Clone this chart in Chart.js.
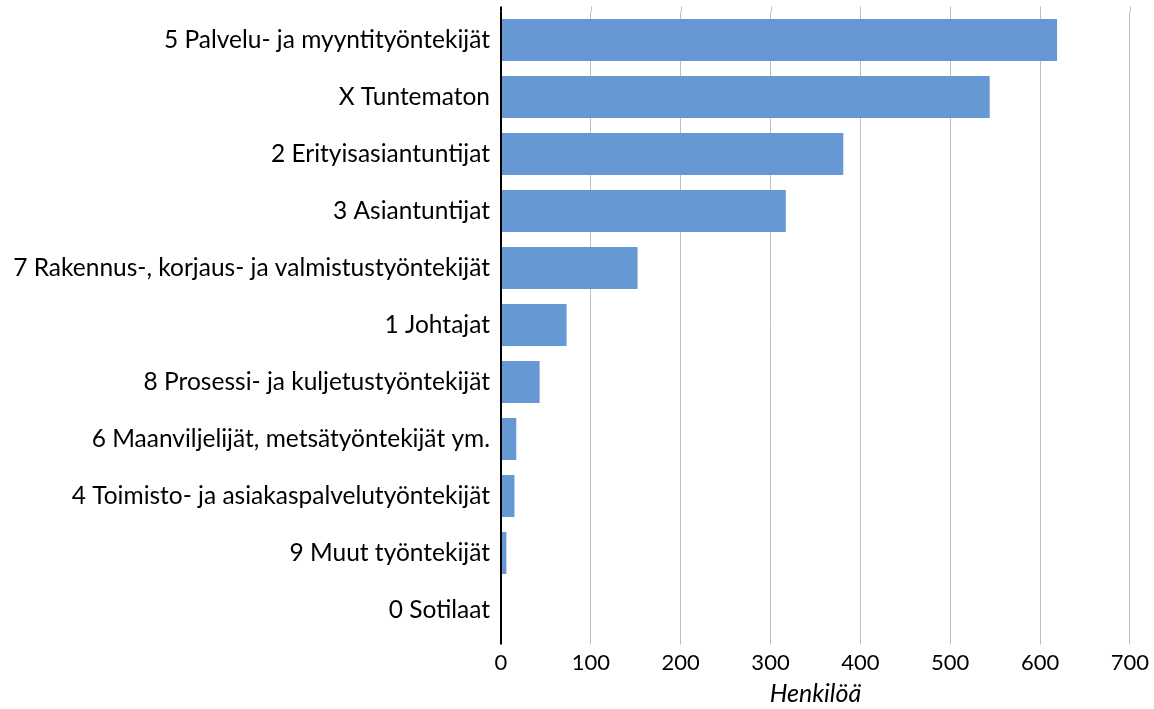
<!DOCTYPE html>
<html>
<head>
<meta charset="utf-8">
<script src="https://cdn.jsdelivr.net/npm/chart.js"></script>
<style>
  html, body { margin: 0; padding: 0; background: #ffffff; }
  #wrap { width: 1154px; height: 709px; }
</style>
</head>
<body>
<div id="wrap"><canvas id="c" width="1154" height="709"></canvas></div>
<script>
const categories = [
  "5 Palvelu- ja myyntityöntekijät",
  "X Tuntematon",
  "2 Erityisasiantuntijat",
  "3 Asiantuntijat",
  "7 Rakennus-, korjaus- ja valmistustyöntekijät",
  "1 Johtajat",
  "8 Prosessi- ja kuljetustyöntekijät",
  "6 Maanviljelijät, metsätyöntekijät ym.",
  "4 Toimisto- ja asiakaspalvelutyöntekijät",
  "9 Muut työntekijät",
  "0 Sotilaat"
];
const values = [619, 544, 381, 317, 152, 73, 43, 17, 15, 6, 0];
const xTicks = [0, 100, 200, 300, 400, 500, 600, 700];
const xTitle = "Henkilöä";

const FONT = "Lato, 'Open Sans', sans-serif";
const GRID = "#bfbfbf";

const gridTopExt = {
  id: 'gridTopExt',
  beforeDatasetsDraw(chart) {
    const xs = chart.scales.x;
    const top = chart.chartArea.top;
    const ctx = chart.ctx;
    ctx.save();
    xs.ticks.forEach(t => {
      const px = xs.getPixelForValue(t.value);
      const zero = t.value === 0;
      ctx.strokeStyle = zero ? '#000000' : GRID;
      ctx.lineWidth = zero ? 2 : 1;
      const x = zero ? px : Math.round(px) + 0.5;
      ctx.beginPath();
      ctx.moveTo(x, top - 5);
      ctx.lineTo(x, top);
      ctx.stroke();
    });
    ctx.restore();
  }
};

new Chart(document.getElementById('c'), {
  type: 'bar',
  data: {
    labels: categories,
    datasets: [{
      data: values,
      backgroundColor: '#6699d3',
      borderWidth: 0,
      barPercentage: 0.737,
      categoryPercentage: 1.0
    }]
  },
  options: {
    indexAxis: 'y',
    responsive: false,
    devicePixelRatio: 1,
    animation: false,
    layout: { padding: { top: 11.5, right: 22, bottom: 0, left: 0 } },
    plugins: {
      legend: { display: false },
      tooltip: { enabled: false }
    },
    scales: {
      x: {
        type: 'linear',
        min: 0,
        max: 700,
        afterBuildTicks(scale) { scale.ticks = xTicks.map(v => ({ value: v })); },
        afterFit(scale) { scale.height = 70.5; },
        border: { display: false },
        grid: {
          color: (c) => (c.tick && c.tick.value === 0) ? '#000000' : GRID,
          lineWidth: (c) => (c.tick && c.tick.value === 0) ? 2 : 1,
          tickLength: 6,
          drawTicks: true
        },
        ticks: {
          color: '#000000',
          font: { family: FONT, size: 22 },
          padding: 5,
          maxRotation: 0
        },
        title: {
          display: true,
          text: xTitle,
          color: '#000000',
          font: { family: FONT, size: 25, style: 'italic' },
          padding: { top: 0, bottom: 0 }
        }
      },
      y: {
        afterFit(scale) {
          scale.width = 501;
          scale.paddingTop = 0;
          scale.paddingBottom = 0;
        },
        border: { display: false },
        grid: { display: false, drawTicks: false },
        ticks: {
          color: '#000000',
          font: { family: FONT, size: 24.5 },
          padding: 11,
          autoSkip: false
        }
      }
    }
  },
  plugins: [gridTopExt]
});
</script>
</body>
</html>
